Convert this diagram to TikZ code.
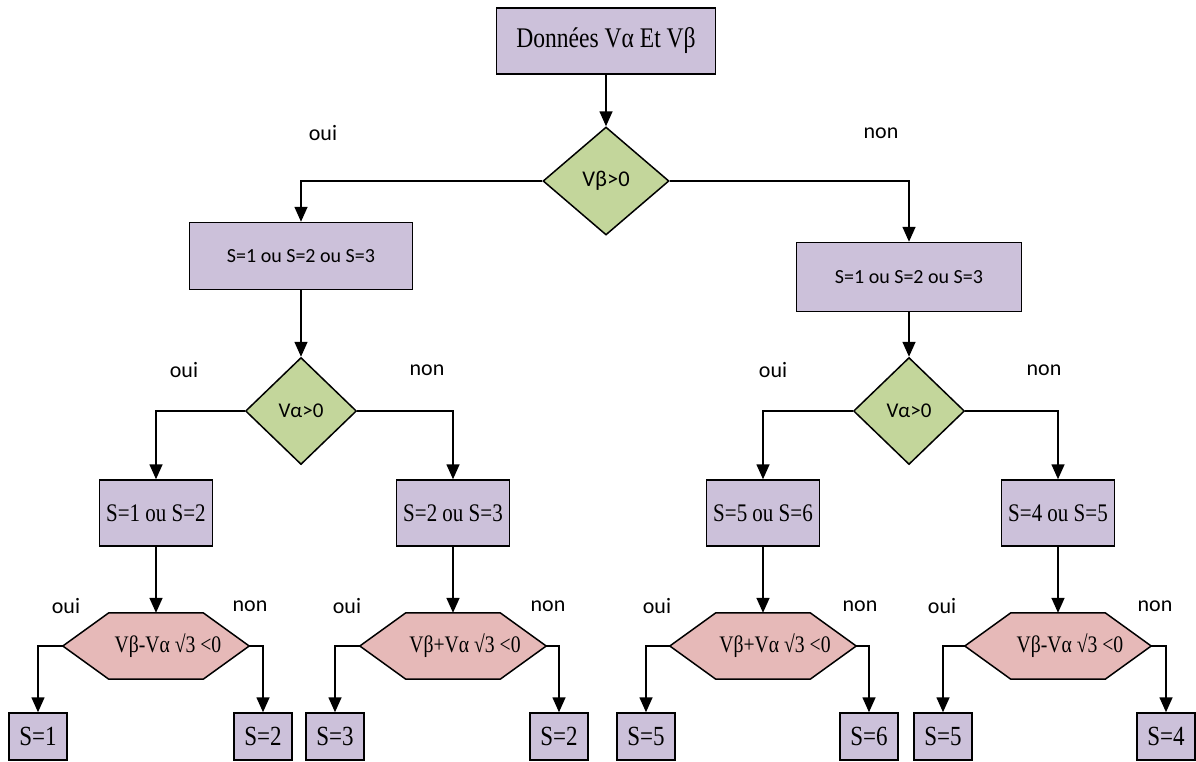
\documentclass[tikz,border=0pt]{standalone}
\usepackage{fontspec}
\setmainfont{Liberation Serif}[FakeStretch=0.83]
\setsansfont{Carlito}
\usetikzlibrary{shapes.geometric,arrows.meta}
\definecolor{boxcol}{HTML}{CCC1DA}
\definecolor{testcol}{HTML}{C3D69B}
\definecolor{hexcol}{HTML}{E6B9B8}
\tikzset{
  box/.style={draw, line width=1.5pt, fill=boxcol, inner sep=0pt, font=\fontsize{25.3}{30}\selectfont},
  leaf/.style={box, minimum width=58pt, minimum height=47pt, font=\fontsize{27.7}{32}\selectfont},
  test/.style={diamond, draw, line width=1.5pt, fill=testcol, inner sep=0pt, font=\sffamily\fontsize{22.5}{27}\selectfont},
  hexa/.style={minimum width=186pt, minimum height=66pt, inner sep=0pt},
  answer/.style={font=\sffamily\fontsize{22}{26}\selectfont},
  arr/.style={line width=1.6pt, -{Triangle[length=15pt,width=13pt]}}
}
\begin{document}
\begin{tikzpicture}[x=1pt,y=-1pt]
  \useasboundingbox (0,0) rectangle (1196,761);
  \def\hexa#1#2#3{
    \node[hexa] (#1) at #2 {};
    \filldraw[fill=hexcol, line width=1.5pt] (#1.west) -- ([xshift=46pt]#1.north west) -- ([xshift=-46pt]#1.north east)
      -- (#1.east) -- ([xshift=-46pt]#1.south east) -- ([xshift=46pt]#1.south west) -- cycle;
    \node[font=\fontsize{23.7}{28}\selectfont] (#1t) at ([xshift=12pt]#1.center) {#3};
  }
  \node[box, minimum width=219pt, minimum height=66pt, font=\fontsize{28.4}{34}\selectfont] (data) at (606,41) {Données Vα Et Vβ};
  \node[test, minimum width=126pt, minimum height=108pt] (d1) at (606,181) {Vβ>0};
  \node[box, minimum width=223pt, minimum height=67pt, font=\sffamily\fontsize{20}{24}\selectfont] (b1) at (301,256) {S=1 ou S=2 ou S=3};
  \node[box, minimum width=225pt, minimum height=69pt, font=\sffamily\fontsize{20}{24}\selectfont] (b2) at (909,277) {S=1 ou S=2 ou S=3};
  \node[test, minimum width=111pt, minimum height=107pt, font=\sffamily\fontsize{21}{25}\selectfont] (d2) at (301,411) {Vα>0};
  \node[test, minimum width=111pt, minimum height=107pt, font=\sffamily\fontsize{21}{25}\selectfont] (d3) at (909,411) {Vα>0};
  \foreach \n/\x/\t in {c1/156/S=1 ou S=2, c2/453/S=2 ou S=3, c3/763/S=5 ou S=6, c4/1058/S=4 ou S=5}
    \node[box, minimum width=113pt, minimum height=66pt] (\n) at (\x,513) {\t};
  \hexa{h1}{(156,646)}{Vβ-Vα √3 <0}
  \hexa{h2}{(453,646)}{Vβ+Vα √3 <0}
  \hexa{h3}{(763,646)}{Vβ+Vα √3 <0}
  \hexa{h4}{(1058,646)}{Vβ-Vα √3 <0}
  \foreach \n/\x/\t in {l1/38/1, l2/263/2, l3/335/3, l4/559/2, l5/646/5, l6/869/6, l7/943/5, l8/1166/4}
    \node[leaf] (\n) at (\x,736.5) {S=\t};
  % oui / non
  \foreach \x/\y/\t [count=\i] in {323/133/oui, 881/133/non, 184/370/oui, 427/370/non, 773/370/oui, 1044/370/non,
      66/606/oui, 250/606/non, 347/606/oui, 548/606/non, 657/606/oui, 860/606/non, 942/606/oui, 1155/606/non}
    \node[answer] (a\i) at (\x,\y) {\t};
  % arrows
  \draw[arr] (data) -- (d1);
  \foreach \a/\b in {b1/d2, b2/d3, c1/h1, c2/h2, c3/h3, c4/h4}
    \draw[arr] (\a) -- (\b);
  \foreach \a/\b/\c in {d1/b1/b2, d2/c1/c2, d3/c3/c4, h1/l1/l2, h2/l3/l4, h3/l5/l6, h4/l7/l8} {
    \draw[arr] (\a.west) -| (\b.north);
    \draw[arr] (\a.east) -| (\c.north);
  }
\end{tikzpicture}
\end{document}
